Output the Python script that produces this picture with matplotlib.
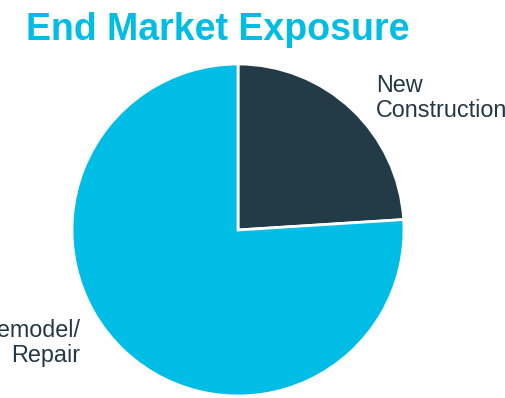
import matplotlib
matplotlib.use("Agg")
import matplotlib.pyplot as plt

categories = ["New\nConstruction", "Remodel/\nRepair"]
values = [24, 76]
colors = ["#233A47", "#00BDE6"]
title = "End Market Exposure"

W, H = 506, 398
fig = plt.figure(figsize=(W / 100, H / 100), dpi=100)
ax = fig.add_axes([0, 0, 1, 1])
cx, cy, r = 238, 230, 166
ax.pie(values, colors=colors, startangle=90, counterclock=False, radius=1,
       wedgeprops=dict(edgecolor="white", linewidth=2))
ax.set_xlim(-cx / r, (W - cx) / r)
ax.set_ylim(-(H - cy) / r, cy / r)
ax.set_aspect("auto")
ax.axis("off")

fig.text(218 / W, 1 - 40 / H, title, ha="center", va="baseline",
         fontsize=27, fontweight="bold", color="#00BDE6", family="Liberation Sans")
fig.text(376 / W, 1 - 117 / H, categories[0], ha="left", va="baseline",
         fontsize=16.8, color="#243746", family="Liberation Sans", linespacing=1.1)
fig.text(80 / W, 1 - 362 / H, categories[1], ha="right", va="baseline",
         fontsize=16.8, color="#243746", family="Liberation Sans", linespacing=1.1,
         multialignment="right")

fig.savefig("out.png", dpi=100)
